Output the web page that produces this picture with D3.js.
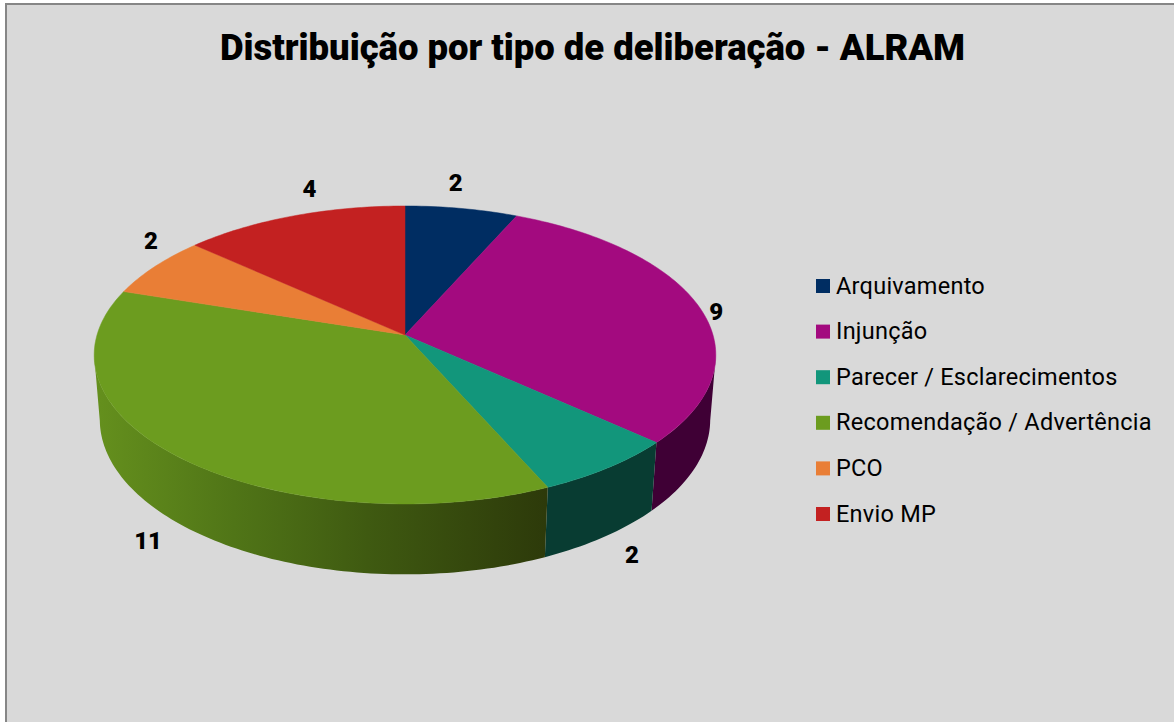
<!DOCTYPE html>
<html>
<head>
<meta charset="utf-8">
<script src="https://d3js.org/d3.v7.min.js"></script>
<style>
  body { margin: 0; background: #fff; overflow: hidden; }
  svg { display: block; }
  text { font-family: Roboto, sans-serif; fill: #000; }
</style>
</head>
<body>
<script>
var categories = ["Arquivamento", "Injunção", "Parecer / Esclarecimentos", "Recomendação / Advertência", "PCO", "Envio MP"];
var values = [2, 9, 2, 11, 2, 4];
var topColors = ["#002d62", "#a30a7f", "#12967b", "#6c9c1f", "#e97e36", "#c32121"];
var sideColors = ["#001a3a", "#3f0035", "#083c32", "url(#greenSide)", "#8a4a1f", "#731313"];
var title = "Distribuição por tipo de deliberação - ALRAM";

var width = 1174,
    height = 722;

// fake 3d: perspective projection of the unit disc, z = 0 top face, z = 1 bottom face
var cx = 405, cy = 335,
    rx = 308, ry = 146.3, depth = 65.3,
    k = 0.134, m = 0.018;

// the wall only shows between these two angles, outside them the rim folds behind the top face
var foldRight = 98 * Math.PI / 180,
    foldLeft = 262 * Math.PI / 180;

function project(a, z) {
  var u = Math.sin(a), v = -Math.cos(a);
  var w = 1 - k * v + m * z;
  return [cx + rx * u / w, cy + (ry * v + depth * z) / w];
}

function arcPoints(a0, a1, z) {
  var n = Math.max(2, Math.ceil((a1 - a0) / 0.02));
  return d3.range(n + 1).map(function(i) {
    return project(a0 + (a1 - a0) * i / n, z);
  });
}

var line = d3.line();

var svg = d3.select("body").append("svg")
    .attr("width", width)
    .attr("height", height);

var defs = svg.append("defs");
var grad = defs.append("linearGradient")
    .attr("id", "greenSide")
    .attr("gradientUnits", "userSpaceOnUse")
    .attr("x1", 100).attr("x2", 546).attr("y1", 0).attr("y2", 0);
[[0, "#648f1d"], [0.3, "#507517"], [0.6, "#3f5a11"], [1, "#2d3a0a"]].forEach(function(s) {
  grad.append("stop").attr("offset", s[0]).attr("stop-color", s[1]);
});

// frame: only top and left edges show
svg.append("rect").attr("x", 5).attr("y", 3).attr("width", width).attr("height", height).attr("fill", "#868686");
svg.append("rect").attr("x", 7).attr("y", 5).attr("width", width).attr("height", height).attr("fill", "#d9d9d9");

svg.append("text")
    .attr("x", 220)
    .attr("y", 60)
    .attr("textLength", 745)
    .attr("lengthAdjust", "spacing")
    .attr("font-size", 36.5)
    .attr("font-weight", 900)
    .text(title);

var pie = d3.pie().sort(null)(values);

// walls first, the top face paints over them
svg.append("g").selectAll("path")
    .data(pie.filter(function(d) { return d.endAngle > foldRight && d.startAngle < foldLeft; }))
    .enter().append("path")
      .attr("fill", function(d) { return sideColors[d.index]; })
      .attr("d", function(d) {
        var a0 = Math.max(d.startAngle, foldRight),
            a1 = Math.min(d.endAngle, foldLeft);
        return line(arcPoints(a0, a1, 0).concat(arcPoints(a0, a1, 1).reverse())) + "Z";
      });

svg.append("g").selectAll("path")
    .data(pie)
    .enter().append("path")
      .attr("fill", function(d, i) { return topColors[i]; })
      .attr("stroke", function(d, i) { return topColors[i]; })
      .attr("stroke-width", 0.5)
      .attr("d", function(d) {
        return line([[cx, cy]].concat(arcPoints(d.startAngle, d.endAngle, 0))) + "Z";
      });

// value labels, nudged off the rim at the slice's mid angle
var labelNudge = [[-6, -25], [18, 7], [24, 87], [-28, 85], [-4, -25], [16, -27]];
svg.append("g").selectAll("text")
    .data(pie)
    .enter().append("text")
      .attr("text-anchor", "middle")
      .attr("font-size", 24)
      .attr("font-weight", 900)
      .attr("x", function(d, i) { return project((d.startAngle + d.endAngle) / 2, 0)[0] + labelNudge[i][0]; })
      .attr("y", function(d, i) { return project((d.startAngle + d.endAngle) / 2, 0)[1] + labelNudge[i][1] + 8; })
      .text(function(d) { return d.value; });

// legend
var legendY = d3.scalePoint().domain(categories).range([279, 507]);
var legend = svg.append("g").selectAll("g")
    .data(categories)
    .enter().append("g")
      .attr("transform", function(d) { return "translate(816," + legendY(d) + ")"; });

legend.append("rect")
    .attr("width", 14)
    .attr("height", 14)
    .attr("fill", function(d, i) { return topColors[i]; });

legend.append("text")
    .attr("x", 20)
    .attr("y", 14.5)
    .attr("font-size", 23.5)
    .attr("letter-spacing", 0.25)
    .text(function(d) { return d; });
</script>
</body>
</html>
